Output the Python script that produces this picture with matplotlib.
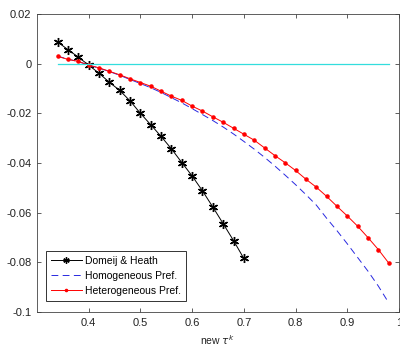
import numpy as np
import matplotlib
matplotlib.use('Agg')
import matplotlib.pyplot as plt

plt.rcParams['font.family'] = ['Liberation Sans', 'DejaVu Sans']

# Domeij & Heath, tau from 0.34 to 0.70
tau_dh = [0.34, 0.36, 0.38, 0.40, 0.42, 0.44, 0.46, 0.48, 0.50, 0.52,
          0.54, 0.56, 0.58, 0.60, 0.62, 0.64, 0.66, 0.68, 0.70]
val_dh = [0.0087, 0.0056, 0.0026, -0.0006, -0.0039, -0.0075, -0.0108, -0.0150,
          -0.0200, -0.0246, -0.0293, -0.0343, -0.0398, -0.0452, -0.0512,
          -0.0577, -0.0644, -0.0712, -0.0784]

# homogeneous / heterogeneous prefs, tau from 0.34 to 0.98
tau_pref = [0.34, 0.36, 0.38, 0.40, 0.42, 0.44, 0.46, 0.48, 0.50, 0.52,
            0.54, 0.56, 0.58, 0.60, 0.62, 0.64, 0.66, 0.68, 0.70, 0.72,
            0.74, 0.76, 0.78, 0.80, 0.82, 0.84, 0.86, 0.88, 0.90, 0.92,
            0.94, 0.96, 0.98]
val_hom = [0.0030, 0.0018, 0.0008, -0.0006, -0.0018, -0.0032, -0.0047, -0.0064,
           -0.0080, -0.0097, -0.0116, -0.0137, -0.0158, -0.0181, -0.0205,
           -0.0229, -0.0255, -0.0283, -0.0313, -0.0344, -0.0377, -0.0412,
           -0.0449, -0.0487, -0.0527, -0.0569, -0.0622, -0.0672, -0.0725,
           -0.0780, -0.0835, -0.0895, -0.0962]
val_het = [0.0029, 0.0017, 0.0009, -0.0006, -0.0017, -0.0031, -0.0045, -0.0061,
           -0.0076, -0.0091, -0.0111, -0.0131, -0.0148, -0.0171, -0.0191,
           -0.0214, -0.0236, -0.0260, -0.0284, -0.0308, -0.0339, -0.0370,
           -0.0399, -0.0430, -0.0465, -0.0497, -0.0534, -0.0574, -0.0613,
           -0.0654, -0.0700, -0.0748, -0.0802]

zero_x = [0.34, 0.98]
zero_y = [0, 0]

fig = plt.figure(figsize=(4.0, 3.48), dpi=100)
ax = fig.add_axes([0.0925, 0.103, 0.905, 0.857])

# matlab style asterisk marker
ast = (6, 2, 0)
ax.plot(tau_dh, val_dh, color='black', lw=0.7, marker=ast, ms=6.5, mew=1.0,
        label='Domeij & Heath')
ax.plot(tau_pref, val_hom, color='#2828e0', lw=0.7, ls=(0, (7, 4.5)),
        label='Homogeneous Pref.')
ax.plot(tau_pref, val_het, color='red', lw=0.7, marker='.', ms=4.5,
        label='Heterogeneous Pref.')
ax.plot(zero_x, zero_y, color='#33dddd', lw=0.9)

ax.set_xlim(0.3, 1.0)
ax.set_ylim(-0.1, 0.02)
ax.set_xticks([0.4, 0.5, 0.6, 0.7, 0.8, 0.9, 1.0])
ax.set_xticklabels(['0.4', '0.5', '0.6', '0.7', '0.8', '0.9', '1'])
ax.set_yticks([-0.1, -0.08, -0.06, -0.04, -0.02, 0, 0.02])
ax.set_yticklabels(['-0.1', '-0.08', '-0.06', '-0.04', '-0.02', '0', '0.02'])
ax.tick_params(direction='in', top=True, right=True, length=3, width=0.6,
               labelsize=8, labelcolor='#222222', color='#444444', pad=4)
for s in ax.spines.values():
    s.set_linewidth(0.6)
    s.set_color('#444444')

ax.set_xlabel(r'new $\tau^k$', fontsize=7.5, color='#222222', labelpad=4)

leg = ax.legend(loc='lower left', fontsize=7.5, frameon=True, fancybox=False,
                edgecolor='black', handlelength=3.0, borderpad=0.45,
                labelspacing=0.5, handletextpad=0.3, handleheight=0.9,
                markerscale=0.7, bbox_to_anchor=(0.01, 0.02))
leg.get_frame().set_linewidth(0.7)

fig.savefig('out.png', dpi=100)
